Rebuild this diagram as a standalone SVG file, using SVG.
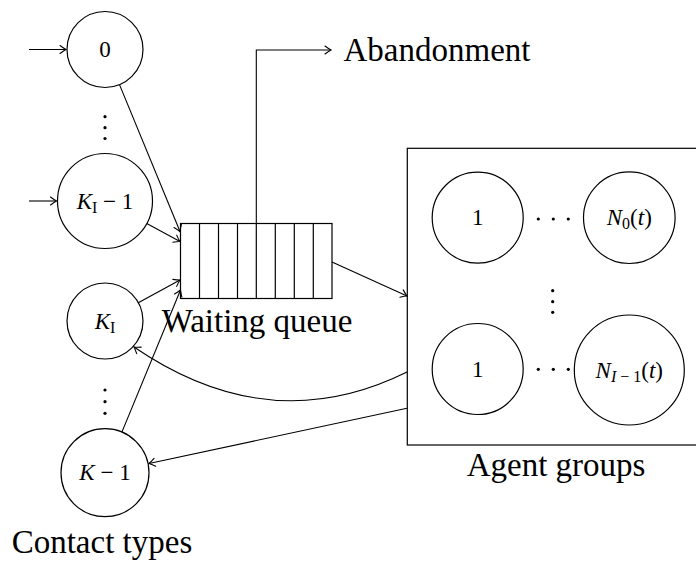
<svg xmlns="http://www.w3.org/2000/svg" width="696" height="562" viewBox="0 0 696 562">
<style>
.n{fill:none;stroke:#000;stroke-width:1.2}
.c{fill:#fff;stroke:#000;stroke-width:1.2}
.e{fill:none;stroke:#000;stroke-width:1.1}
.lbl{font-family:"Liberation Serif","Times New Roman",serif;font-size:33px;fill:#000}
.m{font-family:"Liberation Serif","Times New Roman",serif;font-size:23px;fill:#000;text-anchor:middle}
.i{font-style:italic}
.s{font-size:16px}
.d{fill:#000}
</style>
<defs>
<marker id="ah" markerWidth="12" markerHeight="12" refX="0" refY="0" viewBox="-7 -6 9 12" orient="auto" markerUnits="userSpaceOnUse">
<path d="M-6,-4 Q-2,-1 0,0 Q-2,1 -6,4" fill="none" stroke="#000" stroke-width="1.1" stroke-linecap="round"/>
</marker>
</defs>

<g id="connectors">
<line class="e" x1="29" y1="49.5" x2="66" y2="49.5" marker-end="url(#ah)"/>
<line class="e" x1="29" y1="201" x2="56.5" y2="201" marker-end="url(#ah)"/>
<line class="e" x1="119.5" y1="84.6" x2="180" y2="231.5" marker-end="url(#ah)"/>
<line class="e" x1="146.8" y1="223.6" x2="180" y2="241.5" marker-end="url(#ah)"/>
<line class="e" x1="138.3" y1="302.8" x2="180" y2="280" marker-end="url(#ah)"/>
<line class="e" x1="121.9" y1="432.1" x2="180.5" y2="290" marker-end="url(#ah)"/>
<line class="e" x1="332" y1="262" x2="407" y2="296" marker-end="url(#ah)"/>
<polyline class="e" points="256.3,223.5 256.3,50 331,50" marker-end="url(#ah)"/>
<path class="e" d="M407,372 Q270,440 134,347" marker-end="url(#ah)"/>
<line class="e" x1="407" y1="408.3" x2="149" y2="463.5" marker-end="url(#ah)"/>
</g>

<g id="contact0">
<circle class="c" cx="105" cy="49.5" r="38"/>
<text class="m" x="105" y="57">0</text>
</g>
<g id="dots-contacts-top">
<circle class="d" cx="105" cy="116.7" r="1.6"/>
<circle class="d" cx="105" cy="127.7" r="1.6"/>
<circle class="d" cx="105" cy="138.5" r="1.6"/>
</g>
<g id="contactKI1">
<circle class="c" cx="105" cy="201" r="47.5"/>
<text class="m" x="105" y="208.5"><tspan class="i">K</tspan><tspan class="s" dy="4">I</tspan><tspan dy="-4"> − 1</tspan></text>
</g>
<g id="contactKI">
<circle class="c" cx="105" cy="321" r="38"/>
<text class="m" x="105" y="328.5"><tspan class="i">K</tspan><tspan class="s" dy="4">I</tspan></text>
</g>
<g id="dots-contacts-bottom">
<circle class="d" cx="105" cy="390" r="1.6"/>
<circle class="d" cx="105" cy="401.7" r="1.6"/>
<circle class="d" cx="105" cy="413.3" r="1.6"/>
</g>
<g id="contactK1">
<circle class="c" cx="105" cy="472.7" r="44"/>
<text class="m" x="105" y="480.2"><tspan class="i">K</tspan> − 1</text>
</g>
<text class="lbl" x="11.7" y="553" id="contact-label">Contact types</text>

<g id="queue">
<rect class="n" x="180.5" y="223.5" width="151.5" height="75"/>
<line class="n" x1="199.5" y1="223.5" x2="199.5" y2="298.5"/>
<line class="n" x1="218.5" y1="223.5" x2="218.5" y2="298.5"/>
<line class="n" x1="237.5" y1="223.5" x2="237.5" y2="298.5"/>
<line class="n" x1="256.3" y1="223.5" x2="256.3" y2="298.5"/>
<line class="n" x1="275.3" y1="223.5" x2="275.3" y2="298.5"/>
<line class="n" x1="294.3" y1="223.5" x2="294.3" y2="298.5"/>
<line class="n" x1="313.3" y1="223.5" x2="313.3" y2="298.5"/>
<text class="lbl" x="161.7" y="331.5">Waiting queue</text>
</g>

<g id="abandonment">
<text class="lbl" x="343.5" y="61">Abandonment</text>
</g>

<g id="agent-groups">
<rect class="n" x="407.3" y="148.3" width="300" height="296.7"/>
<circle class="c" cx="477.7" cy="217.7" r="45.5"/>
<text class="m" x="477.7" y="225.2">1</text>
<circle class="d" cx="538.3" cy="219" r="1.6"/>
<circle class="d" cx="553.3" cy="219" r="1.6"/>
<circle class="d" cx="568.3" cy="219" r="1.6"/>
<circle class="c" cx="629.3" cy="217.7" r="45.8"/>
<text class="m" x="629.3" y="225.2"><tspan class="i">N</tspan><tspan class="s" dy="4">0</tspan><tspan dy="-4">(</tspan><tspan class="i">t</tspan>)</text>
<circle class="d" cx="552.7" cy="290.7" r="1.6"/>
<circle class="d" cx="552.7" cy="301.7" r="1.6"/>
<circle class="d" cx="552.7" cy="312.3" r="1.6"/>
<circle class="c" cx="477.7" cy="369" r="45.5"/>
<text class="m" x="477.7" y="376.5">1</text>
<circle class="d" cx="538.3" cy="369.3" r="1.6"/>
<circle class="d" cx="553.3" cy="369.3" r="1.6"/>
<circle class="d" cx="568.3" cy="369.3" r="1.6"/>
<circle class="c" cx="629.3" cy="370" r="55"/>
<text class="m" x="629.3" y="377.5"><tspan class="i">N</tspan><tspan class="s" dy="4"><tspan class="i">I</tspan> − 1</tspan><tspan dy="-4">(</tspan><tspan class="i">t</tspan>)</text>
<text class="lbl" x="466.7" y="475.5">Agent groups</text>
</g>
</svg>
